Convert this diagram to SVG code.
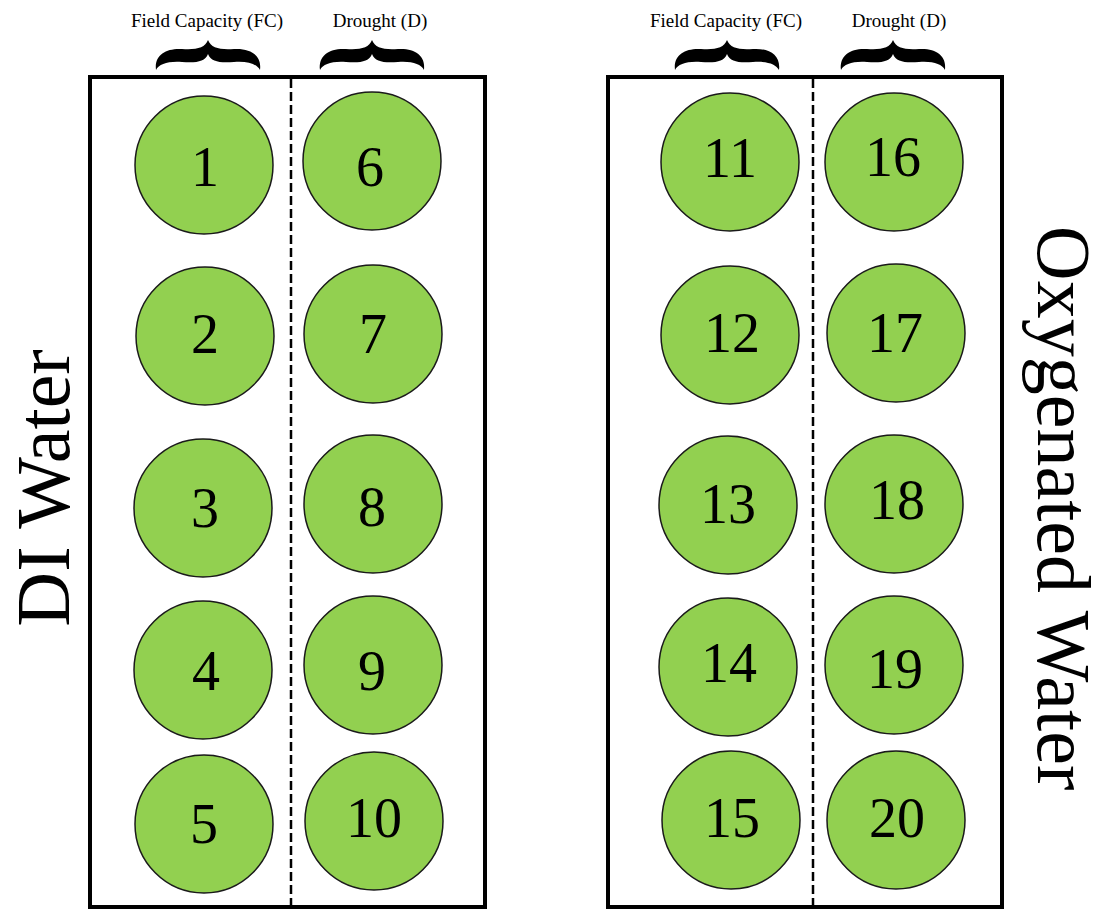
<svg xmlns="http://www.w3.org/2000/svg" width="1098" height="911" viewBox="0 0 1098 911">
<style>
.box{fill:none;stroke:#000;stroke-width:4}
.div{stroke:#000;stroke-width:2.5;stroke-dasharray:9 4}
.pot{fill:#92D050;stroke:#1a1a1a;stroke-width:1.5}
.num{font-family:"Liberation Serif","Times New Roman",serif;font-size:56px;fill:#000;text-anchor:middle}
.hdr{font-family:"Liberation Serif","Times New Roman",serif;font-size:19px;fill:#000;text-anchor:middle}
.side{font-family:"Liberation Serif","Times New Roman",serif;font-size:76px;fill:#000;text-anchor:middle}
.brace{fill:#000}
</style>
<defs>
<path id="brace" d="M -52 30 C -54 15, -42 8, -26 9 C -12 10, -3 8, 0 0 C 3 8, 12 10, 26 9 C 42 8, 54 15, 52 30 C 49 24, 40 21, 26 22 C 12 23, 3 22, 0 14 C -3 22, -12 23, -26 22 C -40 21, -49 24, -52 30 Z"/>
</defs>

<g id="labels">
<text class="hdr" x="207" y="27">Field Capacity (FC)</text>
<text class="hdr" x="380" y="27">Drought (D)</text>
<text class="hdr" x="726" y="27">Field Capacity (FC)</text>
<text class="hdr" x="899" y="27">Drought (D)</text>
<text class="side" transform="translate(69,488) rotate(-90)">DI Water</text>
<text class="side" transform="translate(1038,508) rotate(90)">Oxygenated Water</text>
</g>

<g id="braces" class="brace">
<use href="#brace" transform="translate(208,40)"/>
<use href="#brace" transform="translate(372,40)"/>
<use href="#brace" transform="translate(727,40)"/>
<use href="#brace" transform="translate(893,40)"/>
</g>

<g id="tray-di">
<rect class="box" x="90" y="77" width="395" height="830"/>
<line class="div" x1="291" y1="79" x2="291" y2="905"/>
</g>
<g id="tray-oxy">
<rect class="box" x="608" y="77" width="394" height="830"/>
<line class="div" x1="813" y1="79" x2="813" y2="905"/>
</g>

<g id="pot1"><circle class="pot" cx="204" cy="165" r="69"/><text class="num" x="205" y="186">1</text></g>
<g id="pot2"><circle class="pot" cx="205" cy="336" r="69"/><text class="num" x="205" y="353">2</text></g>
<g id="pot3"><circle class="pot" cx="203" cy="508" r="69"/><text class="num" x="205" y="527">3</text></g>
<g id="pot4"><circle class="pot" cx="203" cy="670" r="69"/><text class="num" x="206" y="690">4</text></g>
<g id="pot5"><circle class="pot" cx="204" cy="824" r="69"/><text class="num" x="204" y="843">5</text></g>
<g id="pot6"><circle class="pot" cx="372" cy="161" r="69"/><text class="num" x="370" y="186">6</text></g>
<g id="pot7"><circle class="pot" cx="373" cy="334" r="69"/><text class="num" x="373" y="353">7</text></g>
<g id="pot8"><circle class="pot" cx="373" cy="504" r="69"/><text class="num" x="372" y="526">8</text></g>
<g id="pot9"><circle class="pot" cx="373" cy="665" r="69"/><text class="num" x="372" y="690">9</text></g>
<g id="pot10"><circle class="pot" cx="374" cy="821" r="69"/><text class="num" x="374" y="837">10</text></g>
<g id="pot11"><circle class="pot" cx="730" cy="162" r="69"/><text class="num" x="730" y="177">11</text></g>
<g id="pot12"><circle class="pot" cx="730" cy="335" r="69"/><text class="num" x="732" y="352">12</text></g>
<g id="pot13"><circle class="pot" cx="728" cy="505" r="69"/><text class="num" x="728" y="523">13</text></g>
<g id="pot14"><circle class="pot" cx="728" cy="667" r="69"/><text class="num" x="729" y="682">14</text></g>
<g id="pot15"><circle class="pot" cx="731" cy="820" r="69"/><text class="num" x="732" y="837">15</text></g>
<g id="pot16"><circle class="pot" cx="894" cy="162" r="69"/><text class="num" x="893" y="176">16</text></g>
<g id="pot17"><circle class="pot" cx="896" cy="333" r="69"/><text class="num" x="895" y="352">17</text></g>
<g id="pot18"><circle class="pot" cx="894" cy="504" r="69"/><text class="num" x="897" y="519">18</text></g>
<g id="pot19"><circle class="pot" cx="894" cy="665" r="69"/><text class="num" x="895" y="688">19</text></g>
<g id="pot20"><circle class="pot" cx="896" cy="820" r="69"/><text class="num" x="897" y="837">20</text></g>
</svg>
